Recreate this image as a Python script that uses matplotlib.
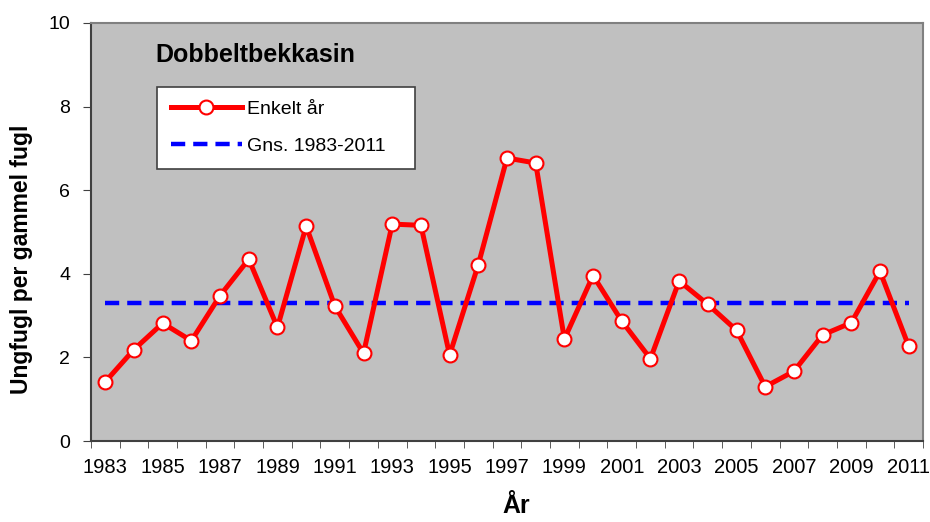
import matplotlib.pyplot as plt
import numpy as np

years = list(range(1983, 2012))
ratio = [1.42, 2.19, 2.82, 2.40, 3.48, 4.35, 2.72, 5.14, 3.23, 2.10,
         5.19, 5.16, 2.06, 4.22, 6.77, 6.65, 2.44, 3.96, 2.87, 1.97,
         3.83, 3.27, 2.65, 1.30, 1.67, 2.54, 2.83, 4.06, 2.27]
mean_val = 3.30
tick_labels = [str(y) if (y - 1983) % 2 == 0 else "" for y in years]

plt.rcParams['font.family'] = ['Liberation Sans', 'DejaVu Sans']

fig = plt.figure(figsize=(9.3, 5.22), dpi=100)
ax = fig.add_axes([0.0978, 0.155, 0.8947, 0.801])
ax.set_facecolor('#c0c0c0')

x = np.arange(len(years))
ax.plot(x, [mean_val] * len(years), color='#0000ff', lw=3.2,
        dashes=(3.2, 1.8), label='Gns. 1983-2011', zorder=2)
ax.plot(x, ratio, color='#ff0000', lw=3.6, marker='o', markersize=10,
        markerfacecolor='white', markeredgecolor='#ff0000', markeredgewidth=1.5,
        label='Enkelt år', zorder=3)

ax.set_xlim(-0.5, len(years) - 0.5)
ax.set_ylim(0, 10)
ax.set_yticks(range(0, 11, 2))
ax.tick_params(axis='y', labelsize=14, length=6, color='#404040', pad=9)

ax.set_xticks(x)
ax.set_xticklabels(tick_labels, fontsize=14.5)
ax.set_xticks(np.arange(-0.5, len(years)), minor=True)
ax.tick_params(axis='x', which='major', length=0, pad=12)
ax.tick_params(axis='x', which='minor', length=5, color='#404040')

for side in ['left', 'bottom']:
    ax.spines[side].set_color('#404040')
    ax.spines[side].set_linewidth(1.5)
for side in ['top', 'right']:
    ax.spines[side].set_color('#808080')
    ax.spines[side].set_linewidth(1.5)

ax.set_ylabel('Ungfugl per gammel fugl', fontsize=16.5, fontweight='bold')
ax.yaxis.set_label_coords(-0.07, 0.435)
ax.set_xlabel('År', fontsize=18, fontweight='bold')
ax.xaxis.set_label_coords(0.511, -0.127)

ax.text(0.077, 0.923, 'Dobbeltbekkasin', transform=ax.transAxes, fontsize=18,
        fontweight='bold', va='center', ha='left')

handles, labels = ax.get_legend_handles_labels()
leg = ax.legend(handles[::-1], labels[::-1], loc='upper left',
                bbox_to_anchor=(0.0793, 0.5, 0.310, 0.347), mode='expand',
                borderaxespad=0, fontsize=14, frameon=True,
                fancybox=False, edgecolor='#404040', framealpha=1,
                handlelength=3.65, labelspacing=1.0, borderpad=0.7,
                handletextpad=0.3)
leg.get_frame().set_linewidth(1.2)

fig.savefig('out.png', dpi=100)
